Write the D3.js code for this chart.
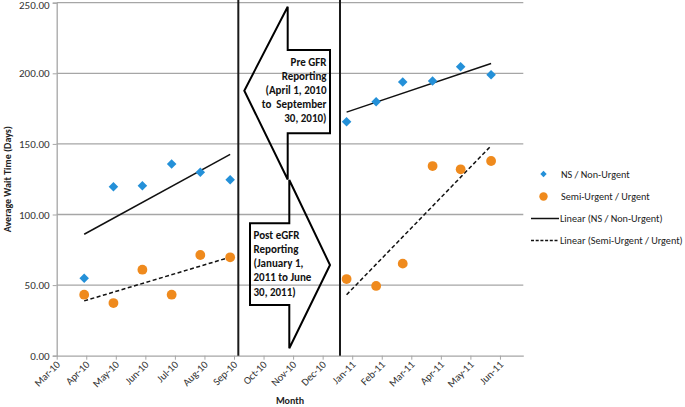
<!DOCTYPE html>
<html><head><meta charset="utf-8">
<script src="https://cdn.jsdelivr.net/npm/d3@7/dist/d3.min.js"></script>
<style>
body{margin:0;background:#fff;}
text{font-family:Carlito, Calibri, Lato, "Open Sans", sans-serif;}
</style></head>
<body><svg id="c" width="685" height="407"></svg>
<script>
// ---- data ----
const tickLabels = ["Mar-10","Apr-10","May-10","Jun-10","Jul-10","Aug-10","Sep-10","Oct-10","Nov-10","Dec-10","Jan-11","Feb-11","Mar-11","Apr-11","May-11","Jun-11"];
const pointMonths = ["Apr-10","May-10","Jun-10","Jul-10","Aug-10","Sep-10","Jan-11","Feb-11","Mar-11","Apr-11","May-11","Jun-11"];
const pointPos = [0.93,1.92,2.90,3.89,4.86,5.87,9.81,10.81,11.71,12.72,13.67,14.70];
const nsValues = [54.8,119.7,120.4,135.8,129.9,124.6,165.7,179.9,193.8,194.5,204.7,199.0];
const urgValues = [43.2,37.3,60.9,43.2,71.3,69.7,54.3,49.4,65.2,134.3,132.0,137.9];
const yTicks = [0,50,100,150,200,250];
const periods = [[0,6],[6,12]];
const legendLabels = ["NS / Non-Urgent","Semi-Urgent / Urgent","Linear (NS / Non-Urgent)","Linear (Semi-Urgent / Urgent)"];
const preText = ["Pre GFR","Reporting","(April 1, 2010","to  September","30, 2010)"];
const postText = ["Post eGFR","Reporting","(January 1,","2011 to June","30, 2011)"];
const dividers = [6.146, 9.587];

// ---- layout ----
const BLUE = "#2490d8", ORANGE = "#ef8a1d", GRID = "#a6a6a6";
const svg = d3.select("#c");
const x = d3.scaleLinear().domain([0, 15.79]).range([56.7, 523.3]);
const y = d3.scaleLinear().domain([0, 250]).range([355.7, 2.7]);

// gridlines
svg.append("g").selectAll("line").data(yTicks.filter(d=>d>0)).join("line")
  .attr("x1", x(0)).attr("x2", x.range()[1]).attr("y1", d=>y(d)).attr("y2", d=>y(d))
  .attr("stroke", GRID).attr("stroke-width", 1.3);

// y axis
const ya = svg.append("g").attr("transform", `translate(${x(0)},0)`)
  .call(d3.axisLeft(y).tickValues(yTicks).tickFormat(d3.format(".2f")).tickSize(4).tickPadding(3));
ya.select(".domain").attr("stroke", GRID).attr("stroke-width",1.3);
ya.selectAll(".tick line").attr("stroke", GRID);
ya.selectAll("text").attr("font-size", 11).attr("fill", "#333")
  .attr("y", d => d === 250 ? 2.2 : 0);

// x axis
const xa = svg.append("g").attr("transform", `translate(0,${y(0)})`)
  .call(d3.axisBottom(x).tickValues(d3.range(tickLabels.length)).tickFormat(i=>tickLabels[i]).tickSize(4).tickSizeOuter(0));
xa.select(".domain").attr("stroke", GRID).attr("stroke-width",1.3);
xa.selectAll(".tick line").attr("stroke", GRID);
xa.selectAll("text").attr("font-size", 10.5).attr("fill", "#333")
  .attr("text-anchor","end").attr("dy", null).attr("y", 0)
  .attr("transform","translate(3.5,9.5) rotate(-45)");

// axis titles
svg.append("text").attr("x", (x.range()[0]+x.range()[1])/2).attr("y", 404)
  .attr("text-anchor","middle").attr("font-size", 10).attr("font-weight","bold").attr("fill","#222").text("Month");
svg.append("text").attr("transform", `translate(11,${(y(0)+y(250))/2}) rotate(-90)`)
  .attr("text-anchor","middle").attr("font-size", 10).attr("font-weight","bold").attr("fill","#222").text("Average Wait Time (Days)");

// divider lines
svg.append("g").selectAll("line").data(dividers).join("line")
  .attr("x1", d=>x(d)).attr("x2", d=>x(d)).attr("y1", 0).attr("y2", y(0))
  .attr("stroke", "#1a1a1a").attr("stroke-width", 2);

// arrows (annotation shapes)
const upper = [[244.3,90.7],[287.7,6.7],[287.7,50],[330,50],[330,133.3],[287.7,133.3],[287.7,179.5]];
const lower = [[330,265],[289.3,348.3],[289.3,305],[250,305],[250,223.3],[289.3,223.3],[289.3,180]];
[upper, lower].forEach(p => svg.append("path").attr("d", d3.line()(p) + "Z")
  .attr("fill","none").attr("stroke","#000").attr("stroke-width",2).attr("stroke-linejoin","miter"));
svg.append("g").selectAll("text").data(preText).join("text")
  .attr("x", 326.5).attr("y", (d,i)=>65.5 + i*14.2).attr("text-anchor","end")
  .attr("font-size", 11).attr("font-weight","bold").attr("fill","#111").attr("xml:space","preserve").text(d=>d);
svg.append("g").selectAll("text").data(postText).join("text")
  .attr("x", 253.5).attr("y", (d,i)=>238.8 + i*14.2).attr("text-anchor","start")
  .attr("font-size", 11).attr("font-weight","bold").attr("fill","#111").text(d=>d);

// trend lines (least squares per period)
function fit(vals, [a,b]) {
  const xs = pointPos.slice(a,b), ys = vals.slice(a,b);
  const mx = d3.mean(xs), my = d3.mean(ys);
  const s = d3.sum(xs.map((v,i)=>(v-mx)*(ys[i]-my))) / d3.sum(xs.map(v=>(v-mx)**2));
  return [xs[0], xs[xs.length-1]].map(v => [x(v), y(my + s*(v-mx))]);
}
periods.forEach(p => {
  svg.append("path").attr("d", d3.line()(fit(nsValues,p))).attr("stroke","#111").attr("stroke-width",1.5).attr("fill","none");
  svg.append("path").attr("d", d3.line()(fit(urgValues,p))).attr("stroke","#111").attr("stroke-width",1.5)
    .attr("stroke-dasharray","4,2.5").attr("fill","none");
});

// points
const diamond = d3.symbol().type(d3.symbolDiamond2).size(58);
svg.append("g").selectAll("path").data(nsValues).join("path")
  .attr("d", diamond).attr("transform",(d,i)=>`translate(${x(pointPos[i])},${y(d)})`).attr("fill", BLUE);
svg.append("g").selectAll("circle").data(urgValues).join("circle")
  .attr("cx",(d,i)=>x(pointPos[i])).attr("cy", d=>y(d)).attr("r", 4.9).attr("fill", ORANGE);

// legend
const lg = svg.append("g").attr("font-size", 10.2);
const ly = [174, 196.5, 218.5, 240.5];
lg.append("path").attr("d", d3.symbol().type(d3.symbolDiamond2).size(26)).attr("transform",`translate(543.5,${ly[0]})`).attr("fill",BLUE);
lg.append("circle").attr("cx",543.5).attr("cy",ly[1]).attr("r",4.2).attr("fill",ORANGE);
lg.append("line").attr("x1",531).attr("x2",559).attr("y1",ly[2]).attr("y2",ly[2]).attr("stroke","#111").attr("stroke-width",1.5);
lg.append("line").attr("x1",531).attr("x2",559).attr("y1",ly[3]).attr("y2",ly[3]).attr("stroke","#111").attr("stroke-width",1.5).attr("stroke-dasharray","3,1.7");
lg.selectAll("text").data(legendLabels).join("text")
  .attr("x", (d,i)=> i<2 ? 561 : 560).attr("y",(d,i)=>ly[i]).attr("dy","0.35em").attr("fill","#222").text(d=>d);
</script></body></html>
